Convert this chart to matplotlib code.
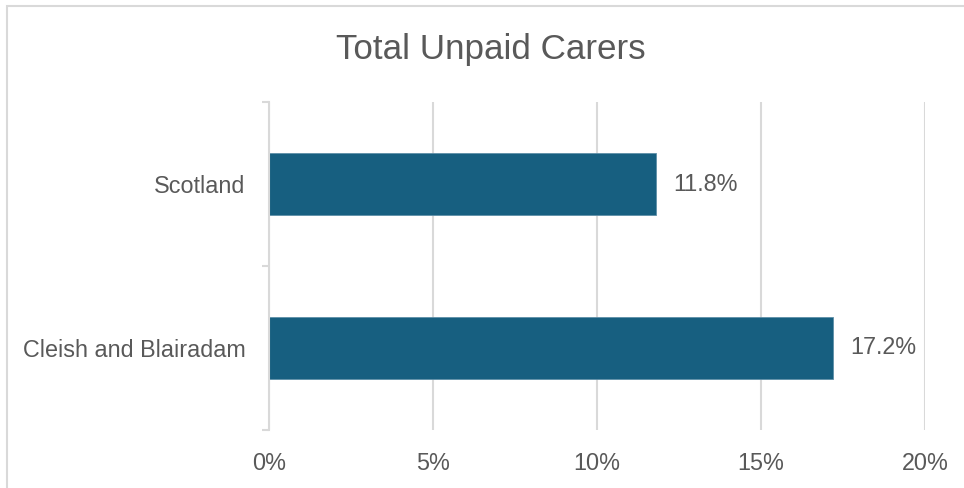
import matplotlib
matplotlib.use("Agg")
import matplotlib.pyplot as plt
from matplotlib.patches import Rectangle
from matplotlib.ticker import FixedLocator, PercentFormatter

categories = ["Cleish and Blairadam", "Scotland"]
values = [17.2, 11.8]
x_ticks = [0, 5, 10, 15, 20]
title = "Total Unpaid Carers"

bar_color = "#175F80"
grid_color = "#D9D9D9"
text_color = "#595959"

plt.rcParams['font.family'] = ['Liberation Sans', 'DejaVu Sans']

fig = plt.figure(figsize=(9.64, 4.88), dpi=100)
ax = fig.add_axes([269/964, 1-430/488, (925-269)/964, (430-102)/488])

ypos = list(range(len(categories)))
bars = ax.barh(ypos, values, height=0.38, color=bar_color, edgecolor="#5E8FA8", linewidth=0.6, zorder=3)

ax.set_xlim(0, 20)
ax.set_ylim(-0.5, len(categories) - 0.5)
ax.set_xticks(x_ticks)
ax.xaxis.set_major_formatter(PercentFormatter(decimals=0))
ax.set_yticks(ypos)
ax.set_yticklabels(categories)
ax.yaxis.set_minor_locator(FixedLocator([-0.5, 0.5, 1.5]))

ax.grid(axis="x", color=grid_color, linewidth=1.5, zorder=0)
for s in ["top", "right", "bottom"]:
    ax.spines[s].set_visible(False)
ax.spines["left"].set_color(grid_color)
ax.spines["left"].set_linewidth(1.5)
ax.spines["left"].set_zorder(4)

fs = 16.8
ax.tick_params(axis="x", length=0, pad=16, labelsize=fs, labelcolor=text_color)
ax.tick_params(axis="y", which="major", length=0, pad=17, labelsize=fs, labelcolor=text_color)
ax.tick_params(axis="y", which="minor", length=5, width=1.5, color=grid_color)

for b, v in zip(bars, values):
    ax.annotate(f"{v:.1f}%", xy=(b.get_width(), b.get_y() + b.get_height()/2),
                xytext=(12.5, 0), textcoords="offset points", va="center", ha="left",
                fontsize=fs, color=text_color)

fig.text(491/964, 1-49/488, title, ha="center", va="center", fontsize=25.2, color=text_color)

fig.patches.append(Rectangle((6.5/964, -0.1), 1.2, 1-6.5/488+0.1, transform=fig.transFigure,
                             fill=False, edgecolor=grid_color, linewidth=1.5))

fig.savefig("out.png", dpi=100)
